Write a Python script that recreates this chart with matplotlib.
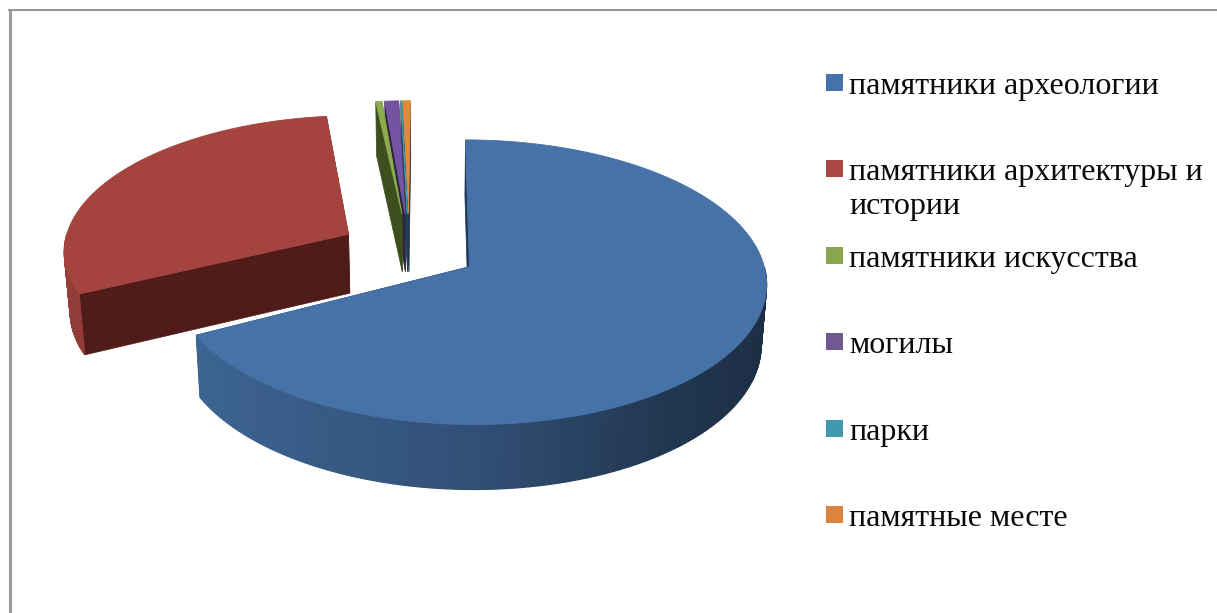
import numpy as np
import matplotlib
matplotlib.use("Agg")
import matplotlib.pyplot as plt
from matplotlib.patches import Rectangle

categories = ["памятники археологии", "памятники архитектуры и\nистории",
              "памятники искусства", "могилы", "парки", "памятные месте"]
values = [67.35, 30.8, 0.4, 0.9, 0.05, 0.5]
top_colors = ["#4672a8", "#a5443f", "#8cab4c", "#7454a0", "#3f9bb0", "#e08a3c"]
legend_colors = ["#4573a7", "#aa4643", "#89a54e", "#71588f", "#4198af", "#db843d"]
face_colors = ["#1b3757", "#4f1c1a", "#3c4f1d", "#2e2447", "#1b4450", "#1f3048"]

# projection parameters (pixel space)
XC, Y0, A, K, P = 429.0, 267.5, 295.0, 140.8, 0.109
XV, DELTA, DEPTH = 430.0, 0.016, 60.0
EXPLODE = [0.24, 0.24, 0.27, 0.27, 0.27, 0.27]
RADIUS = [1.0, 0.98, 0.96, 0.96, 0.96, 0.96]
START_PAD = [0.0, 0.03, 0.0, 0.0, 0.0, 0.0]
UC, VC = -0.068, 0.13


def proj(u, v):
    s = 1 + P * v
    return XC + A * u / s, Y0 - K * v / s


def drop(x, y, v):
    return XV + (x - XV) * (1 - DELTA), y + DEPTH / (1 + 0.7 * P * v)


def shade(hex_color, f):
    rgb = np.array(matplotlib.colors.to_rgb(hex_color))
    return tuple(np.clip(rgb * f, 0, 1))


fig = plt.figure(figsize=(12.17, 6.13), dpi=100, facecolor="white")
ax = fig.add_axes([0, 0, 1, 1])
ax.set_xlim(0, 1217)
ax.set_ylim(613, 0)
ax.axis("off")

ax.plot([9.5, 9.5], [613, 9.5], color="#9a9a9a", lw=2.2, solid_capstyle="butt")
ax.plot([8, 1217], [9.5, 9.5], color="#8c8c8c", lw=1.3, solid_capstyle="butt")

fractions = np.array(values) / np.sum(values)
ends = np.cumsum(fractions) * 2 * np.pi
starts = ends - fractions * 2 * np.pi

for i in [5, 4, 3, 2, 1, 0]:
    t0, t1 = starts[i] + START_PAD[i], ends[i]
    mid = (starts[i] + t1) / 2
    cu = UC + EXPLODE[i] * np.sin(mid)
    cv = VC + EXPLODE[i] * np.cos(mid)
    t = np.linspace(t0, t1, max(6, int((t1 - t0) * 60)))
    u = cu + RADIUS[i] * np.sin(t)
    v = cv + RADIUS[i] * np.cos(t)
    x, y = proj(u, v)
    bx, by = drop(x, y, v)
    ax_, ay_ = proj(cu, cv)
    abx, aby = drop(ax_, ay_, cv)
    # cut faces
    for j in (0, -1):
        ax.fill([ax_, x[j], bx[j], abx], [ay_, y[j], by[j], aby],
                color=face_colors[i], lw=0.5, zorder=2)
    # rim, front-facing part only
    for j in range(len(t) - 1):
        tm = (t[j] + t[j + 1]) / 2
        if np.cos(tm) > 0.0:
            continue
        f = np.interp(np.sin(tm), [-1, 0, 0.6, 1], [0.90, 0.70, 0.48, 0.40])
        c = shade(top_colors[i], f)
        ax.fill([x[j], x[j + 1], bx[j + 1], bx[j]], [y[j], y[j + 1], by[j + 1], by[j]],
                color=c, lw=0.9, zorder=2)
    # top
    ax.fill(np.r_[ax_, x], np.r_[ay_, y], color=top_colors[i], lw=0.6, zorder=3)

LEG_X, LEG_Y0, LEG_STEP, LEG_BOX = 826, 74, 86.4, 17
LINE_STEP = 34
for i, name in enumerate(categories):
    yb = LEG_Y0 + i * LEG_STEP
    ax.add_patch(Rectangle((LEG_X, yb), LEG_BOX, LEG_BOX, color=legend_colors[i], lw=0, zorder=4))
    for n, line in enumerate(name.split("\n")):
        ax.text(849, yb + 20 + n * LINE_STEP, line, family="Liberation Serif", fontsize=23,
                color="#0a0a0a", va="baseline", ha="left", zorder=5)

fig.savefig("out.png", dpi=100)
